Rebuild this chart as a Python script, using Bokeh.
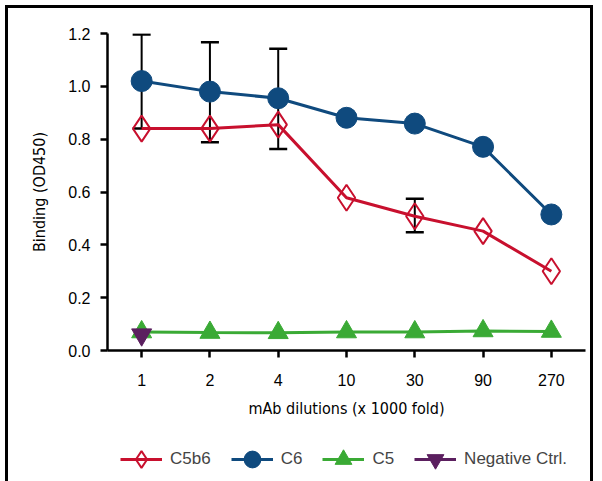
from bokeh.plotting import figure
from bokeh.layouts import column, row
from bokeh.models import (FactorRange, Range1d, ColumnDataSource, Whisker, TeeHead,
                          Legend, LegendItem, FixedTicker, PrintfTickFormatter, Spacer)
from bokeh.embed import file_html
from bokeh.resources import INLINE

dilutions = ["1", "2", "4", "10", "30", "90", "270"]
c5b6 = [0.84, 0.84, 0.855, 0.578, 0.508, 0.452, 0.30]
c6 = [1.02, 0.98, 0.955, 0.881, 0.859, 0.771, 0.515]
c5 = [0.07, 0.068, 0.067, 0.07, 0.07, 0.074, 0.072]
neg_x = ["1"]
neg = [0.06]
c6_err_x = ["1", "2", "4"]
c6_err_upper = [1.196, 1.167, 1.142]
c6_err_lower = [0.84, 0.788, 0.763]
c5b6_err_x = ["30"]
c5b6_err_upper = [0.574]
c5b6_err_lower = [0.448]

RED = "#c8102e"
BLUE = "#0f4a7e"
GREEN = "#3aaa35"
PURPLE = "#5b1f5f"
FONT = "Liberation Sans"
COND = "DejaVu Sans Condensed"


def add_series(fig, visible=True):
    rs = []
    l = fig.line(dilutions, c5, line_color=GREEN, line_width=3, visible=visible)
    m = fig.scatter(dilutions, c5, marker="triangle", size=20, fill_color=GREEN, line_color=GREEN, visible=visible)
    rs.append(("C5", [l, m]))
    l = fig.line(neg_x, neg, line_color=PURPLE, line_width=3, visible=visible)
    m = fig.scatter(neg_x, neg, marker="inverted_triangle", size=20, fill_color=PURPLE, line_color=PURPLE, visible=visible)
    rs.append(("Negative Ctrl.", [l, m]))
    l = fig.line(dilutions, c6, line_color=BLUE, line_width=3, visible=visible)
    m = fig.scatter(dilutions, c6, marker="circle", size=21, fill_color=BLUE, line_color=BLUE, visible=visible)
    rs.append(("C6", [l, m]))
    l = fig.line(dilutions, c5b6, line_color=RED, line_width=3, visible=visible)
    m = fig.scatter(dilutions, c5b6, marker="diamond", size=26, fill_color=None, line_color=RED, line_width=2, visible=visible)
    rs.append(("C5b6", [l, m]))
    return dict(rs)


p = figure(width=582, height=421, x_range=FactorRange(*dilutions), y_range=Range1d(0, 1.2),
           output_backend="svg", toolbar_location=None,
           min_border_left=99, min_border_top=25, min_border_right=5, min_border_bottom=79)
p.outline_line_color = None
p.xgrid.visible = False
p.ygrid.visible = False

for ax in (p.xaxis[0], p.yaxis[0]):
    ax.axis_line_width = 2.5
    ax.major_tick_line_width = 2.5
    ax.major_tick_out = 7
    ax.major_tick_in = 0
    ax.minor_tick_line_color = None
    ax.major_label_text_font = FONT
    ax.major_label_text_font_size = "16px"
    ax.major_label_text_color = "black"
    ax.axis_label_text_font = COND
    ax.axis_label_text_font_size = "16px"
    ax.axis_label_text_font_style = "normal"
    ax.axis_label_text_color = "black"

p.yaxis.ticker = FixedTicker(ticks=[0, 0.2, 0.4, 0.6, 0.8, 1.0, 1.2])
p.yaxis.formatter = PrintfTickFormatter(format="%.1f")
p.yaxis.axis_label = "Binding (OD450)"
p.xaxis.axis_label = "mAb dilutions (x 1000 fold)"
p.xaxis.major_label_standoff = 16
p.xaxis.axis_label_standoff = 10
p.yaxis.major_label_standoff = 10
p.yaxis.axis_label_standoff = 16

src6 = ColumnDataSource(dict(x=c6_err_x, up=c6_err_upper, lo=c6_err_lower))
src56 = ColumnDataSource(dict(x=c5b6_err_x, up=c5b6_err_upper, lo=c5b6_err_lower))
for s in (src6, src56):
    w = Whisker(source=s, base="x", upper="up", lower="lo", line_color="black", line_width=2,
                upper_head=TeeHead(size=18, line_color="black", line_width=2.5),
                lower_head=TeeHead(size=18, line_color="black", line_width=2.5))
    p.add_layout(w)

add_series(p)

# legend-only strip below the chart
lf = figure(width=582, height=54, x_range=FactorRange(*dilutions), y_range=Range1d(0, 1.2),
            output_backend="svg", toolbar_location=None,
            min_border_left=0, min_border_top=0, min_border_right=0, min_border_bottom=0)
lf.axis.visible = False
lf.grid.visible = False
lf.outline_line_color = None
lr = add_series(lf, visible=False)
order = ["C5b6", "C6", "C5", "Negative Ctrl."]
legend = Legend(items=[LegendItem(label=k, renderers=lr[k]) for k in order],
                orientation="horizontal", location=(13, 3), border_line_color=None,
                background_fill_alpha=0, glyph_width=42, glyph_height=42, label_text_font=FONT,
                label_text_font_size="17px", label_standoff=8, spacing=20, padding=0, margin=0)
lf.add_layout(legend, "center")

inner = column(p, lf, spacing=0, margin=(5, 0, 0, 0),
               styles={"border-top": "3px solid black", "border-left": "3px solid black",
                       "border-right": "3px solid black"})
layout = row(Spacer(width=5, height=10), inner, spacing=0)

open("out.html", "w").write(file_html(layout, INLINE))
